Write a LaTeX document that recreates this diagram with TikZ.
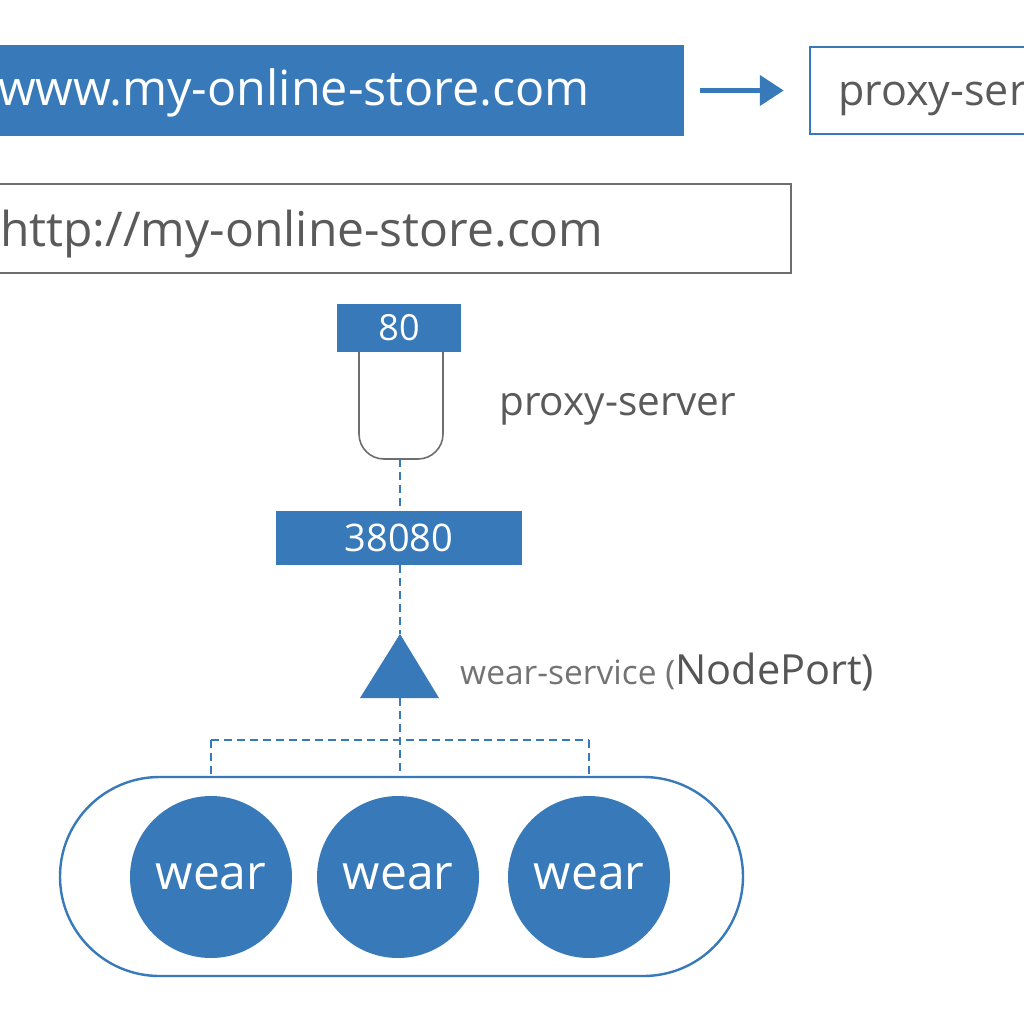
\documentclass[tikz,border=0pt]{standalone}
\usepackage{fontspec}
\setmainfont{Open Sans}
\usetikzlibrary{arrows.meta}
\definecolor{kblue}{HTML}{3779B9}
\definecolor{kgray}{HTML}{5A5A5A}
\definecolor{kline}{HTML}{6E6E6E}
\tikzset{
  bluebox/.style={fill=kblue, draw=none, inner sep=0pt},
  outbox/.style={draw=#1, fill=white, inner sep=0pt},
  wtext/.style={text=white, inner sep=0pt},
  gtext/.style={text=kgray, inner sep=0pt},
  dashline/.style={draw=kblue, line width=1.5pt, dash pattern=on 8pt off 5pt},
  pod/.style={circle, fill=kblue, minimum size=162pt, inner sep=0pt, text=white, font=\fontsize{48}{54}\selectfont},
}
\begin{document}
\begin{tikzpicture}[x=1pt,y=-1pt]
\useasboundingbox (0,0) rectangle (1024,1024);
\fill[white] (0,0) rectangle (1024,1024);
\clip (0,0) rectangle (1024,1024);
% top row
\node[bluebox, minimum width=714pt, minimum height=91pt] (url) at (327,90.5) {};
\node[wtext, anchor=base west, font=\fontsize{48.5}{54}\selectfont] (urltext) at (-2,106) {www.my-online-store.com};
\node[outbox=kblue, line width=2.5pt, minimum width=234pt, minimum height=87pt] (pbox) at (927,90.5) {};
\node[gtext, anchor=base west, font=\fontsize{43}{48}\selectfont] (ptext) at (838,106) {proxy-server};
\draw[kblue, line width=4.5pt, -{Triangle[length=24pt,width=30pt]}] ([xshift=16pt]url.east) -- ([xshift=-25pt]pbox.west);
% http box
\node[outbox=kline, line width=2pt, minimum width=811pt, minimum height=89pt] (http) at (385.5,228.5) {};
\node[gtext, anchor=base west, font=\fontsize{48}{54}\selectfont] (httptext) at (0,246) {http://my-online-store.com};
% proxy server
\node[bluebox, minimum width=124pt, minimum height=48pt, wtext, font=\fontsize{36}{40}\selectfont] (p80) at (399,328) {80};
\draw[kline, line width=1.6pt, rounded corners=25pt] (359,352) -- (359,459) -- (443,459) -- (443,352);
\coordinate (srvbot) at (400,459);
\node[gtext, anchor=base west, font=\fontsize{40.5}{46}\selectfont] (srvlabel) at (499,415) {proxy-server};
\node[bluebox, minimum width=246pt, minimum height=54pt, wtext, font=\fontsize{38}{42}\selectfont] (p38080) at (399,538) {38080};
\draw[dashline] (srvbot) -- (p38080.north -| srvbot);
% service
\coordinate (svctop) at (400,634);
\coordinate (svcbot) at (400,698);
\fill[kblue] (svctop) -- (439,698) -- (360,698) -- cycle;
\draw[dashline] (p38080.south -| svctop) -- (svctop);
\node[anchor=base west, inner sep=0pt] (svclabel) at (460,684) {\textcolor{kgray!85}{\fontsize{33.5}{38}\selectfont wear-service (}\textcolor{kgray!95!black}{\fontsize{41.5}{46}\selectfont NodePort)}};
% deployment
\draw[kblue, line width=2.4pt, rounded corners=99.5pt] (60,777) rectangle (743,976);
\coordinate (deptop) at (400,777);
\node[pod] (w1) at (211,877) {\raisebox{-3pt}{wear}};
\node[pod] (w2) at (398,877) {\raisebox{-3pt}{wear}};
\node[pod] (w3) at (589,877) {\raisebox{-3pt}{wear}};
\coordinate (h1) at (211,740);
\coordinate (h3) at (589,740);
\draw[dashline] (svcbot) -- (deptop);
\draw[dashline] (h1) -- (h3);
\draw[dashline] (h1) -- (211,777);
\draw[dashline] (h3) -- (589,777);
\end{tikzpicture}
\end{document}
